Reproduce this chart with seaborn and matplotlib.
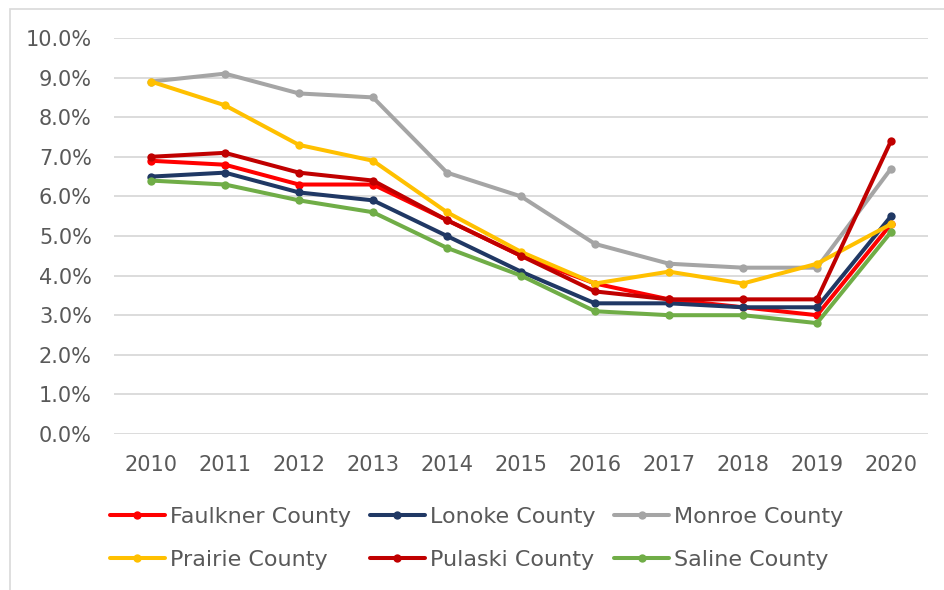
import pandas as pd
import matplotlib.pyplot as plt
import seaborn as sns
from matplotlib.ticker import PercentFormatter
from matplotlib.patches import Rectangle

years = [2010, 2011, 2012, 2013, 2014, 2015, 2016, 2017, 2018, 2019, 2020]
faulkner = [6.9, 6.8, 6.3, 6.3, 5.4, 4.5, 3.8, 3.4, 3.2, 3.0, 5.3]
lonoke = [6.5, 6.6, 6.1, 5.9, 5.0, 4.1, 3.3, 3.3, 3.2, 3.2, 5.5]
monroe = [8.9, 9.1, 8.6, 8.5, 6.6, 6.0, 4.8, 4.3, 4.2, 4.2, 6.7]
prairie = [8.9, 8.3, 7.3, 6.9, 5.6, 4.6, 3.8, 4.1, 3.8, 4.3, 5.3]
pulaski = [7.0, 7.1, 6.6, 6.4, 5.4, 4.5, 3.6, 3.4, 3.4, 3.4, 7.4]
saline = [6.4, 6.3, 5.9, 5.6, 4.7, 4.0, 3.1, 3.0, 3.0, 2.8, 5.1]

counties = ["Faulkner County", "Lonoke County", "Monroe County",
            "Prairie County", "Pulaski County", "Saline County"]
series = [faulkner, lonoke, monroe, prairie, pulaski, saline]
colors = ["#FF0000", "#203864", "#A5A5A5", "#FFC000", "#C00000", "#70AD47"]

rows = []
for name, vals in zip(counties, series):
    for y, v in zip(years, vals):
        rows.append({"year": y, "rate": v, "county": name})
df = pd.DataFrame(rows)

sns.set_style("white")
plt.rcParams["font.family"] = ["DejaVu Sans"]
text_color = "#595959"

fig = plt.figure(figsize=(9.45, 5.9), dpi=100)
ax = fig.add_axes([114 / 945, 1 - 434 / 590, (928 - 114) / 945, (434 - 38) / 590])

sns.lineplot(data=df, x="year", y="rate", hue="county", hue_order=counties,
             palette=dict(zip(counties, colors)), marker="o", markersize=6,
             markeredgewidth=0, linewidth=2.9, ax=ax, legend=True)

ax.set_xlim(2009.5, 2020.5)
ax.set_ylim(0, 10)
ax.set_yticks(range(0, 11))
ax.set_xticks(years)
ax.yaxis.set_major_formatter(PercentFormatter(decimals=1))
ax.grid(axis="y", color="#D9D9D9", linewidth=1.3)
ax.set_axisbelow(True)
for s in ax.spines.values():
    s.set_visible(False)
ax.tick_params(axis="both", length=0, labelsize=15, labelcolor=text_color)
ax.tick_params(axis="y", pad=16)
ax.tick_params(axis="x", pad=15)
ax.set_xlabel("")
ax.set_ylabel("")

handles, labels = ax.get_legend_handles_labels()
order = [0, 3, 1, 4, 2, 5]
ax.legend([handles[i] for i in order], [labels[i] for i in order],
          ncol=3, loc="upper left", bbox_to_anchor=(-0.005, -0.185),
          frameon=False, fontsize=16, labelcolor=text_color,
          handlelength=2.48, handletextpad=0.22, columnspacing=0.85,
          labelspacing=1.03, borderaxespad=0, borderpad=0)

# chart border, cropped at right and bottom
fig.patches.append(Rectangle((10 / 945, -0.1), 1.2, 1 - 9 / 590 + 0.1,
                             transform=fig.transFigure, fill=False,
                             edgecolor="#D9D9D9", linewidth=1.2))

fig.savefig("out.png", dpi=100)
